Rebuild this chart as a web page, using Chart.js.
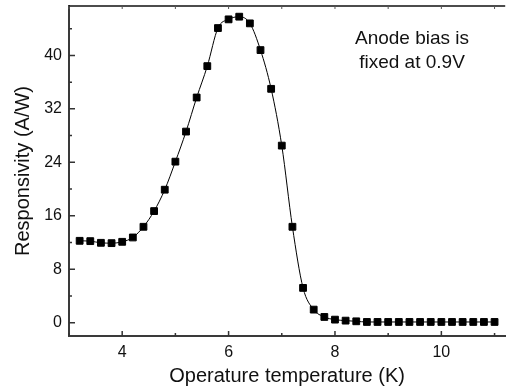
<!DOCTYPE html>
<html>
<head>
<meta charset="utf-8">
<script src="https://cdn.jsdelivr.net/npm/chart.js@4/dist/chart.umd.min.js"></script>
<style>
  html, body { margin:0; padding:0; background:#fff; }
  #wrap { width:511px; height:390px; }
</style>
</head>
<body>
<div id="wrap"><canvas id="mainChart" width="511" height="390"></canvas></div>
<script>
// temperature (K) and responsivity (A/W)
const temps = [3.2,3.4,3.6,3.8,4.0,4.2,4.4,4.6,4.8,5.0,5.2,5.4,5.6,5.8,6.0,6.2,6.4,6.6,6.8,7.0,
               7.2,7.4,7.6,7.8,8.0,8.2,8.4,8.6,8.8,9.0,9.2,9.4,9.6,9.8,10.0,10.2,10.4,10.6,10.8,11.0];
const resp  = [12.25,12.2,11.95,11.9,12.1,12.75,14.35,16.7,19.9,24.1,28.6,33.7,38.4,44.1,45.4,45.8,44.8,40.8,35.0,26.5,
               14.35,5.2,1.95,0.85,0.45,0.3,0.2,0.1,0.1,0.1,0.1,0.1,0.1,0.1,0.1,0.1,0.1,0.1,0.1,0.1];

const xTicks = [4,6,8,10];
const xMinor = [3,5,7,9,11];
const yTicks = [0,8,16,24,32,40];
const yMinor = [4,12,20,28,36,44];
const note = ['Anode bias is','fixed at 0.9V'];

const FONT = '"Liberation Sans", Arial, sans-serif';

// inward tick marks + top frame + the annotation
const decor = {
  id:'decor',
  afterDraw(c) {
    const ctx = c.ctx, a = c.chartArea, xs = c.scales.x, ys = c.scales.y;
    ctx.save();
    ctx.strokeStyle = '#333';
    ctx.lineWidth = 1.5;
    ctx.beginPath();
    xTicks.forEach(v => { const p = xs.getPixelForValue(v); ctx.moveTo(p,a.bottom); ctx.lineTo(p,a.bottom-5); });
    xMinor.forEach(v => { const p = xs.getPixelForValue(v); ctx.moveTo(p,a.bottom); ctx.lineTo(p,a.bottom-3); });
    yTicks.forEach(v => { const p = ys.getPixelForValue(v); ctx.moveTo(a.left,p); ctx.lineTo(a.left+6,p); });
    yMinor.forEach(v => { const p = ys.getPixelForValue(v); ctx.moveTo(a.left,p); ctx.lineTo(a.left+3,p); });
    ctx.stroke();

    // top frame with small ticks
    ctx.strokeStyle = '#111';
    ctx.lineWidth = 1.5;
    ctx.beginPath();
    ctx.moveTo(a.left, a.top); ctx.lineTo(a.right, a.top);
    ctx.stroke();
    ctx.lineWidth = 1;
    ctx.strokeStyle = '#555';
    ctx.beginPath();
    xTicks.concat(xMinor).forEach(v => { const p = xs.getPixelForValue(v); ctx.moveTo(p,a.top); ctx.lineTo(p,a.top+3); });
    ctx.stroke();

    ctx.fillStyle = '#111';
    ctx.font = '19px ' + FONT;
    ctx.textAlign = 'center';
    ctx.textBaseline = 'middle';
    note.forEach((t,i) => ctx.fillText(t, 412, 39 + i*24));
    ctx.restore();
  }
};

new Chart(document.getElementById('mainChart').getContext('2d'), {
  type:'line',
  data:{ datasets:[{
    data: temps.map((t,i) => ({x:t, y:resp[i]})),
    borderColor:'#000',
    borderWidth:1,
    backgroundColor:'#000',
    pointStyle:'rect',
    pointRadius:4.8,
    pointBorderWidth:1,
    pointBorderColor:'#000',
    pointBackgroundColor:'#000',
    tension:0.4,
    cubicInterpolationMode:'monotone',
    fill:false
  }]},
  options:{
    responsive:false,
    animation:false,
    layout:{ padding:{ top:6, right:0, left:0, bottom:0 } },
    plugins:{ legend:{display:false}, tooltip:{enabled:false} },
    scales:{
      x:{
        type:'linear', min:3, max:11.2,
        grid:{ display:false, drawTicks:false },
        border:{ display:true, color:'#3a3a3a', width:2 },
        afterBuildTicks: s => { s.ticks = xTicks.map(v => ({value:v})); },
        afterFit: s => { s.height = 54; s.paddingLeft = 0; s.paddingRight = 0; },
        ticks:{ padding:7, color:'#111', font:{ family:FONT, size:16 }, maxRotation:0 },
        title:{ display:true, text:'Operature temperature (K)', color:'#111',
                font:{ family:FONT, size:20 }, padding:{ top:0, bottom:2 } }
      },
      y:{
        min:-2, max:47.4,
        grid:{ display:false, drawTicks:false },
        border:{ display:true, color:'#3a3a3a', width:2 },
        afterBuildTicks: s => { s.ticks = yTicks.map(v => ({value:v})); },
        afterFit: s => { s.width = 69; s.paddingTop = 0; s.paddingBottom = 0; },
        ticks:{ padding:7, color:'#111', font:{ family:FONT, size:16 } },
        title:{ display:true, text:'Responsivity (A/W)', color:'#111',
                font:{ family:FONT, size:20 }, padding:{ top:11, bottom:0 } }
      }
    }
  },
  plugins:[decor]
});
</script>
</body>
</html>
